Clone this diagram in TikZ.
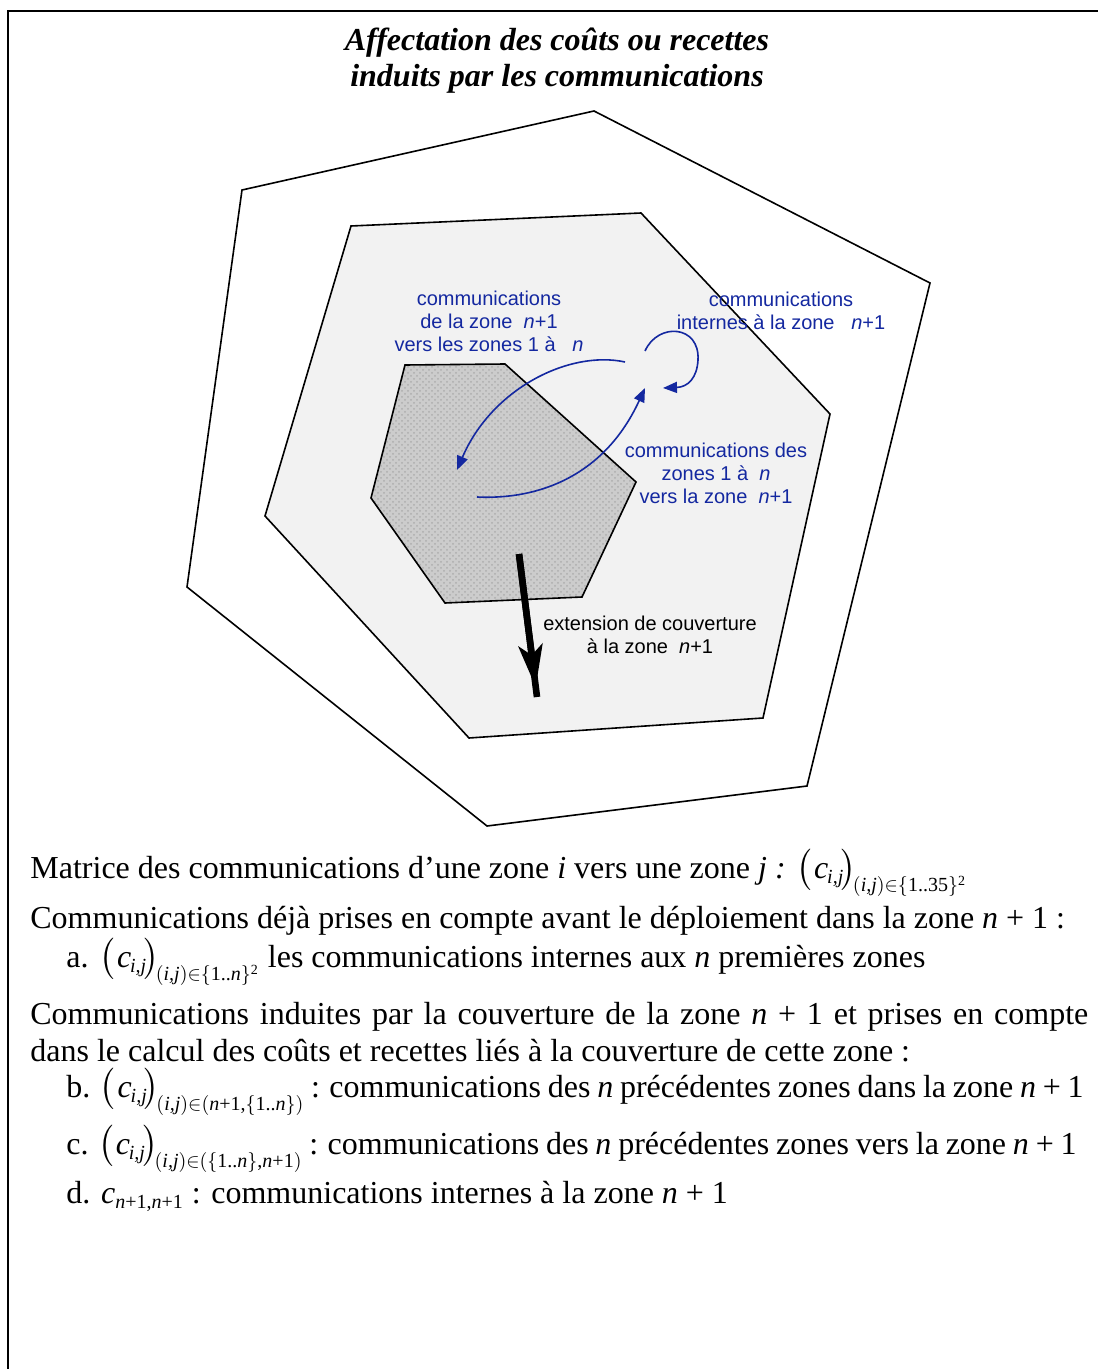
\documentclass[tikz,border=0pt]{standalone}
\usepackage{fontspec}
\usepackage{amsmath}
\setmainfont{Liberation Serif}
\newfontfamily\arialfont{Liberation Sans}
\usetikzlibrary{arrows.meta,patterns,calc}
\DeclareMathSizes{16}{16}{10}{7}
\definecolor{commblue}{RGB}{20,40,160}
\newcommand{\cmat}[1]{$\bigl(\mkern1mu\textit{c}_{\mkern-1mu\textit{i,j}}\mkern-2mu\bigr)_{\!(\textit{i,j})\in#1}$}
\newcommand{\tightsp}{\spaceskip=3.4pt plus 1pt\relax}
\tikzset{
  zone/.style={draw=black, line width=0.8pt},
  bluelab/.style={font=\arialfont\fontsize{10}{11.5}\selectfont, text=commblue, align=center, inner sep=0pt, anchor=base},
  comm/.style={commblue, line width=0.8pt},
  commtip/.style={-{Triangle[length=7pt,width=5.5pt]}},
  txt/.style={anchor=base west, inner sep=0pt, font=\fontsize{16}{18}\selectfont},
  tighttxt/.style={txt, font=\fontsize{16}{18}\selectfont\tightsp}
}

\begin{document}
\begin{tikzpicture}[x=0.5pt,y=-0.5pt]
\useasboundingbox (0,0) rectangle (1097,1369);
\draw[line width=1.1pt] (1110,11) -- (8,11) -- (8,1380);
\node[font=\bfseries\itshape\fontsize{16}{18}\selectfont, align=center, inner sep=0pt, anchor=base] (titre) at (557,87) {Affectation des coûts ou recettes\\induits par les communications};

\draw[zone, fill=white] (242,190) -- (594,111) -- (930,283) -- (807,786) -- (487,826) -- (187,587) -- cycle;
\draw[zone, fill=black!5] (351,226) -- (641,213) -- (830,414) -- (763,718) -- (469,738) -- (265,516) -- cycle;
\draw[zone, preaction={fill=black!20}, pattern=crosshatch dots, pattern color=black!32] (405,365) -- (505,364) -- (636,482) -- (582,597) -- (445,603) -- (371,498) -- cycle;

\node[bluelab] (versn) at (489,351) {communications\\de la zone\ \ \textit{n}+1\\vers les zones 1 à\ \ \ \textit{n}};
\node[bluelab] (interne) at (781,329) {communications\\internes à la zone\ \ \ \textit{n}+1};
\node[bluelab] (desn) at (716,503) {communications des\\zones 1 à\ \ \textit{n}\\vers la zone\ \ \textit{n}+1};

\coordinate (c1s) at (625,362);
\coordinate (c1e) at (457,470);
\coordinate (c2s) at (477,497);
\coordinate (c2e) at (645,388);
\coordinate (c3s) at (645,351);
\coordinate (c3e) at (663,388);
\draw[comm, commtip] (c1s) .. controls (570,350) and (492,388) .. (c1e);
\draw[comm, commtip] (c2s) .. controls (540,500) and (605,475) .. (c2e);
\draw[comm, commtip] (c3s) .. controls (658,322) and (700,325) .. (698,360) .. controls (697,378) and (688,387) .. (c3e);

\coordinate (extS) at (519,554);
\coordinate (extE) at (537,697);
\draw[line width=3.3pt] (extS) -- (extE);
\draw[line width=3.3pt, -{Stealth[length=21pt,width=12pt,inset=5pt]}] (extS) -- ($(extS)!0.93!(extE)$);
\node[font=\arialfont\fontsize{10}{11.5}\selectfont, align=center, inner sep=0pt, anchor=base] (ext) at (650,653) {extension de couverture\\à la zone\ \ \textit{n}+1};

\node[txt] (mat) at (30,878) {Matrice des communications d’une zone \textit{i} vers une zone \textit{j :} \cmat{\{\text{1..35}\}^{\text{2}}}};
\node[txt] (avant) at (30,928) {Communications déjà prises en compte avant le déploiement dans la zone \textit{n} + 1 :};
\node[txt] (ia) at (66,967) {a. \cmat{\{\text{1..}\textit{n}\}^{\text{2}}} les communications internes aux \textit{n} premières zones};
\node[txt] (induit) at (30,1024) {\makebox[529pt][s]{Communications induites par la couverture de la zone \textit{n} + 1 et prises en compte}};
\node[txt] (calcul) at (30,1061) {dans le calcul des coûts et recettes liés à la couverture de cette zone :};
\node[tighttxt] (ib) at (66,1097) {b. \cmat{(\textit{n}\text{+1,}\{\text{1..}\textit{n}\})} : communications des \textit{n} précédentes zones dans la zone \textit{n} + 1};
\node[tighttxt] (ic) at (66,1154) {c. \cmat{(\{\text{1..}\textit{n}\}\text{,}\textit{n}\text{+1})} : communications des \textit{n} précédentes zones vers la zone \textit{n} + 1};
\node[txt] (id) at (66,1203) {d. $\textit{c}_{\textit{n}\text{+1,}\textit{n}\text{+1}}$ : communications internes à la zone \textit{n} + 1};
\end{tikzpicture}
\end{document}
